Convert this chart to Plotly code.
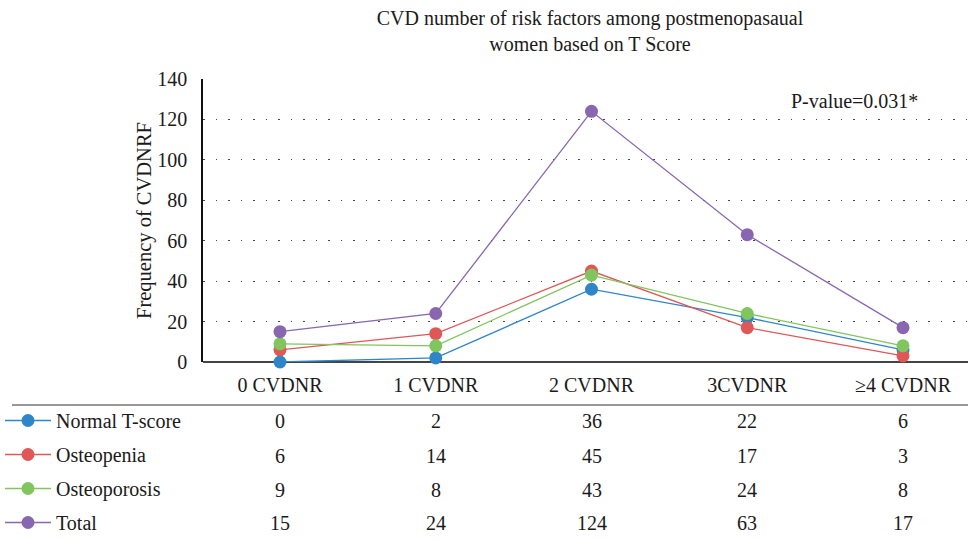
import plotly.graph_objects as go

categories = ["0 CVDNR", "1 CVDNR", "2 CVDNR", "3CVDNR", "≥4 CVDNR"]
series_names = ["Normal T-score", "Osteopenia", "Osteoporosis", "Total"]
normal = [0, 2, 36, 22, 6]
osteopenia = [6, 14, 45, 17, 3]
osteoporosis = [9, 8, 43, 24, 8]
total = [15, 24, 124, 63, 17]
y_ticks = [0, 20, 40, 60, 80, 100, 120, 140]
colors = ["#2E86C8", "#E05757", "#80C55E", "#8866B0"]

W, H = 968, 541
FONT = "Liberation Serif"
TXT = "#1a1a1a"

series = [normal, osteopenia, osteoporosis, total]
fig = go.Figure()
for i, (name, vals, col) in enumerate(zip(series_names, series, colors)):
    fig.add_trace(go.Scatter(
        x=list(range(len(categories))), y=vals, name=name, mode="lines+markers",
        line=dict(color=col, width=1.3), marker=dict(color=col, size=13),
        legendgroup=f"g{i}", cliponaxis=False,
    ))

# data table rows (px centres)
row_px = [421, 456, 490, 523]
for vals, ypx in zip(series, row_px):
    for j, v in enumerate(vals):
        fig.add_annotation(x=j, y=1 - ypx / H, xref="x", yref="paper",
                           text=str(v), showarrow=False, yanchor="middle",
                           font=dict(size=20, color=TXT, family=FONT))

fig.add_shape(type="line", xref="paper", yref="paper",
              x0=12 / W, x1=1, y0=1 - 405 / H, y1=1 - 405 / H,
              line=dict(color="#333", width=1.2))

fig.add_annotation(x=854 / W, y=1 - 101 / H, xref="paper", yref="paper",
                   text="P-value=0.031*", showarrow=False,
                   xanchor="center", yanchor="middle",
                   font=dict(size=20, color=TXT, family=FONT))

step = 155.75
x0px = 280
fig.update_layout(
    width=W, height=H, margin=dict(l=0, r=0, t=0, b=0, autoexpand=False),
    paper_bgcolor="white", plot_bgcolor="white",
    font=dict(family=FONT, size=20, color=TXT),
    title=dict(text="CVD number of risk factors among postmenopasaual<br>women based on T Score",
               x=590 / W, xanchor="center", y=1 - 25 / H, yanchor="middle",
               font=dict(size=20, family=FONT, color=TXT)),
    xaxis=dict(domain=[203 / W, 1], range=[(203 - x0px) / step, (W - x0px) / step],
               tickmode="array", tickvals=list(range(len(categories))), ticktext=categories,
               ticks="", showgrid=False, zeroline=False, showline=False,
               ticklabelstandoff=9, tickfont=dict(size=20, family=FONT, color=TXT)),
    yaxis=dict(domain=[1 - 362 / H, 1 - 79 / H], range=[0, 140],
               tickmode="array", tickvals=y_ticks, ticks="",
               showgrid=True, gridcolor="#444", griddash="1.5px,11px", gridwidth=1.2,
               zeroline=True, zerolinecolor="#444", zerolinewidth=1.5,
               showline=True, linecolor="#111", linewidth=1.5,
               ticklabelstandoff=10,
               tickfont=dict(size=20, family=FONT, color=TXT),
               title=dict(text="Frequency of CVDNRF", standoff=0,
                          font=dict(size=20.5, family=FONT, color=TXT))),
    legend=dict(x=0, y=1 - 401 / H, xanchor="left", yanchor="top",
                tracegroupgap=5, itemwidth=46, bgcolor="rgba(0,0,0,0)",
                font=dict(size=20, family=FONT, color=TXT)),
    showlegend=True,
)

fig.write_html("out.html", config={"displayModeBar": False},
               post_script="document.body.style.margin='0';")
